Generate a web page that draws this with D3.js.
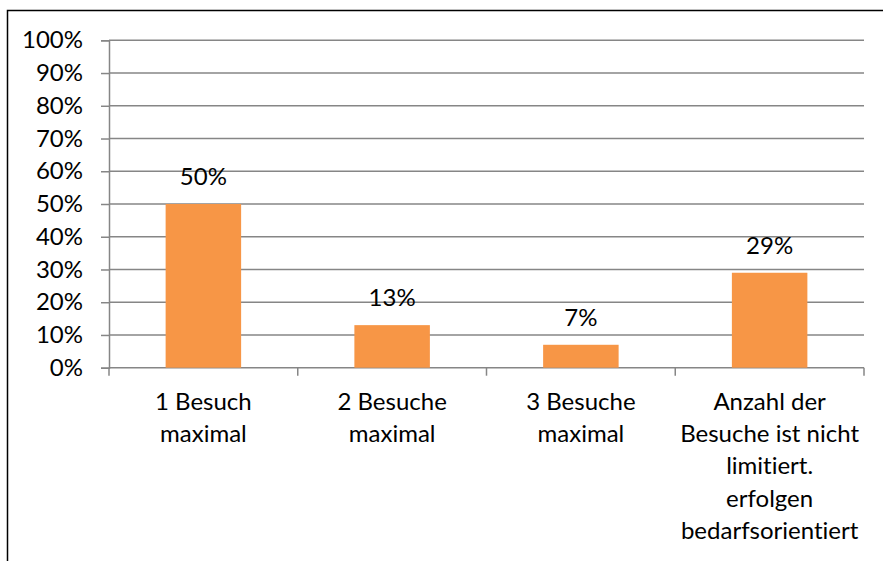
<!DOCTYPE html>
<html>
<head>
<meta charset="utf-8">
<script src="https://cdn.jsdelivr.net/npm/d3@7"></script>
<style>
  html, body { margin: 0; padding: 0; background: #fff; }
  svg { display: block; }
  text { font-family: Lato, "Liberation Sans", sans-serif; fill: #000;
         font-variant-ligatures: none; font-feature-settings: "liga" 0, "clig" 0, "dlig" 0; }
</style>
</head>
<body>
<svg id="chart" width="883" height="561"></svg>
<script>
const categories = [
  ["1 Besuch", "maximal"],
  ["2 Besuche", "maximal"],
  ["3 Besuche", "maximal"],
  ["Anzahl der", "Besuche ist nicht", "limitiert.", "erfolgen", "bedarfsorientiert"]
];
const values = [50, 13, 7, 29];
const yTicks = [0, 10, 20, 30, 40, 50, 60, 70, 80, 90, 100];

const svg = d3.select("#chart");
const W = 883, H = 561;
const plot = { left: 109, right: 864, top: 40.3, bottom: 367.7 };
const fontSize = 24;
const barColor = "#F79646";
const gridColor = "#868686";

// outer chart border (cropped at right and bottom)
svg.append("path")
  .attr("d", `M7.5,${H + 5} V10.5 H${W + 5}`)
  .attr("fill", "none")
  .attr("stroke", "#000")
  .attr("stroke-width", 1.5);

const x = d3.scaleBand()
  .domain(d3.range(categories.length))
  .range([plot.left, plot.right])
  .paddingInner(0.6)
  .paddingOuter(0.3);

const xEdges = d3.scaleLinear()
  .domain([0, categories.length])
  .range([plot.left, plot.right]);

const y = d3.scaleLinear()
  .domain([0, 100])
  .range([plot.bottom, plot.top]);

// gridlines + y ticks
const yAxis = d3.axisLeft(y)
  .tickValues(yTicks)
  .tickSize(8)
  .tickPadding(18)
  .tickFormat(d => d + "%");

const gy = svg.append("g")
  .attr("transform", `translate(${plot.left},0)`)
  .call(yAxis);
gy.select(".domain").attr("stroke", gridColor).attr("stroke-width", 1.5);
gy.selectAll(".tick line").attr("stroke", gridColor).attr("stroke-width", 1.5);
gy.selectAll(".tick text")
  .attr("font-size", fontSize)
  .attr("font-family", "Lato, 'Liberation Sans', sans-serif")
  .attr("fill", "#000");

svg.append("g").selectAll("line")
  .data(yTicks)
  .join("line")
  .attr("x1", plot.left)
  .attr("x2", plot.right)
  .attr("y1", d => y(d))
  .attr("y2", d => y(d))
  .attr("stroke", gridColor)
  .attr("stroke-width", 1.5);

// category tick marks
svg.append("g").selectAll("line")
  .data(d3.range(categories.length + 1))
  .join("line")
  .attr("x1", d => xEdges(d))
  .attr("x2", d => xEdges(d))
  .attr("y1", plot.bottom)
  .attr("y2", plot.bottom + 8)
  .attr("stroke", gridColor)
  .attr("stroke-width", 1.5);

// bars
svg.append("g").selectAll("rect")
  .data(values)
  .join("rect")
  .attr("x", (d, i) => x(i))
  .attr("width", x.bandwidth())
  .attr("y", d => y(d))
  .attr("height", d => y(0) - y(d))
  .attr("fill", barColor);

// value labels
svg.append("g").selectAll("text")
  .data(values)
  .join("text")
  .attr("x", (d, i) => x(i) + x.bandwidth() / 2)
  .attr("y", d => y(d) - 19)
  .attr("text-anchor", "middle")
  .attr("font-size", fontSize)
  .text(d => d + "%");

// category labels
const lineH = 32.2;
const cat = svg.append("g").selectAll("text")
  .data(categories)
  .join("text")
  .attr("text-anchor", "middle")
  .attr("font-size", fontSize);
cat.each(function(lines, i) {
  const t = d3.select(this);
  lines.forEach((ln, j) => {
    t.append("tspan")
      .attr("x", x(i) + x.bandwidth() / 2)
      .attr("y", 410 + j * lineH)
      .text(ln);
  });
});
</script>
</body>
</html>
